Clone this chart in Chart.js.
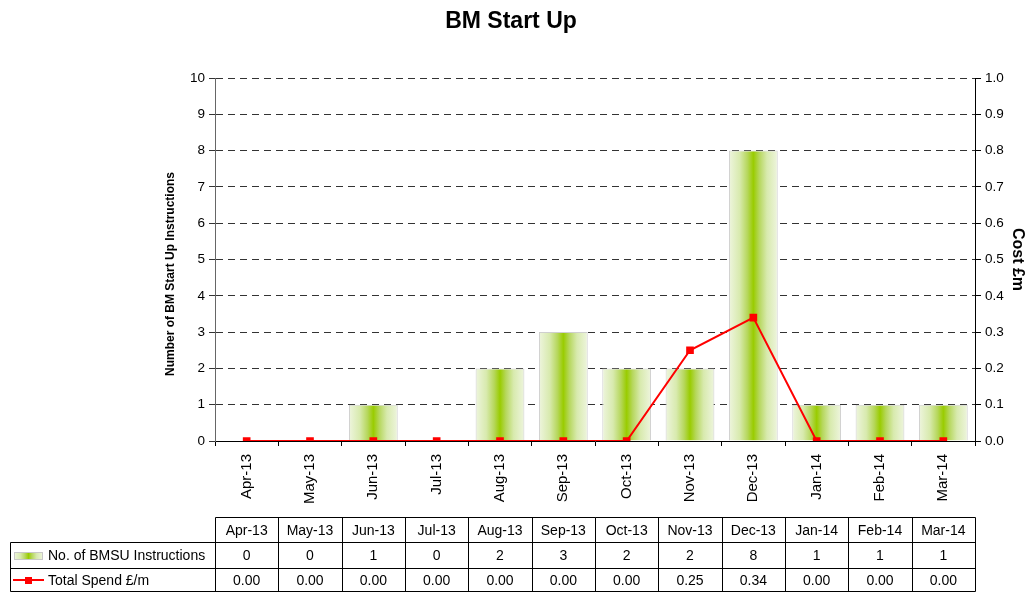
<!DOCTYPE html>
<html>
<head>
<meta charset="utf-8">
<script src="https://cdn.jsdelivr.net/npm/chart.js@4"></script>
<style>
  html, body { margin: 0; padding: 0; background: #fff; }
  #wrap { width: 1027px; height: 592px; position: relative; }
</style>
</head>
<body>
<div id="wrap"><canvas id="chart-bmsu" width="1027" height="592"></canvas></div>
<script>
// data
const months = ['Apr-13', 'May-13', 'Jun-13', 'Jul-13', 'Aug-13', 'Sep-13', 'Oct-13', 'Nov-13', 'Dec-13', 'Jan-14', 'Feb-14', 'Mar-14'];
const instructions = [0, 0, 1, 0, 2, 3, 2, 2, 8, 1, 1, 1];
const spend = [0, 0, 0, 0, 0, 0, 0, 0.25, 0.34, 0, 0, 0];
const seriesNames = ['No. of BMSU Instructions', 'Total Spend \u00a3/m'];

const FONT = 'Arial, "Liberation Sans", sans-serif';
const BAR_FRAC = 0.77;

function barGradient(c, x0, x1) {
    const g = c.createLinearGradient(x0, 0, x1, 0);
    g.addColorStop(0, '#eef5de');
    g.addColorStop(0.22, '#d8eaae');
    g.addColorStop(0.38, '#b6d75c');
    g.addColorStop(0.5, '#99cc00');
    g.addColorStop(0.62, '#b6d75c');
    g.addColorStop(0.78, '#d8eaae');
    g.addColorStop(1, '#eef5de');
    return g;
}

// title, left axis title and data table under the plot
const tablePlugin = {
    id: 'tablePlugin',
    afterDraw(chart) {
        const c = chart.ctx;
        const xs = chart.scales.x;
        const area = chart.chartArea;
        const colW = (area.right - area.left) / months.length;
        c.save();

        c.fillStyle = '#000';
        c.font = 'bold 23px ' + FONT;
        c.textAlign = 'center';
        c.textBaseline = 'middle';
        c.fillText('BM Start Up', 511, 22);

        c.save();
        c.translate(171, 274);
        c.rotate(-Math.PI / 2);
        c.font = 'bold 12px ' + FONT;
        c.fillText('Number of BM Start Up Instructions', 0, 0);
        c.restore();

        const yHead = 517.5, yR1 = 542.5, yR2 = 568.5, yEnd = 591.5;
        const left = 10.5, right = Math.round(area.right) + 0.5;
        c.strokeStyle = '#000';
        c.lineWidth = 1;
        c.beginPath();
        c.moveTo(Math.round(area.left) + 0.5, yHead); c.lineTo(right, yHead);
        c.moveTo(left, yR1); c.lineTo(right, yR1);
        c.moveTo(left, yR2); c.lineTo(right, yR2);
        c.moveTo(left, yEnd); c.lineTo(right, yEnd);
        c.moveTo(left, yR1); c.lineTo(left, yEnd);
        for (let i = 0; i <= months.length; i++) {
            const x = Math.round(area.left + colW * i) + 0.5;
            c.moveTo(x, yHead); c.lineTo(x, yEnd);
        }
        c.stroke();

        c.font = '14px ' + FONT;
        c.fillStyle = '#000';
        months.forEach((m, i) => {
            const x = xs.getPixelForValue(i);
            c.fillText(m, x, (yHead + yR1) / 2 + 1);
            c.fillText(String(instructions[i]), x, (yR1 + yR2) / 2 + 1);
            c.fillText(spend[i].toFixed(2), x, (yR2 + yEnd) / 2 + 1);
        });

        c.textAlign = 'left';
        c.fillText(seriesNames[0], 48, (yR1 + yR2) / 2 + 1);
        c.fillText(seriesNames[1], 48, (yR2 + yEnd) / 2 + 1);

        // legend keys
        c.fillStyle = barGradient(c, 14, 43);
        c.fillRect(14, 552, 29, 8);
        c.strokeStyle = '#c8c8c8';
        c.strokeRect(14.5, 552.5, 28, 7);
        c.strokeStyle = '#ff0000';
        c.lineWidth = 2;
        c.beginPath();
        c.moveTo(13, 580); c.lineTo(44, 580);
        c.stroke();
        c.fillStyle = '#ff0000';
        c.fillRect(25, 577, 7, 7);
        c.restore();
    }
};

const ctx = document.getElementById('chart-bmsu').getContext('2d');

const chart_data = {
    labels: months,
    datasets: [{
        type: 'line',
        label: seriesNames[1],
        data: spend,
        yAxisID: 'y1',
        borderColor: '#ff0000',
        backgroundColor: '#ff0000',
        borderWidth: 2,
        pointStyle: 'rect',
        pointRadius: 4,
        pointHoverRadius: 4,
        tension: 0,
        order: 0
    },
    {
        type: 'bar',
        label: seriesNames[0],
        data: instructions,
        yAxisID: 'y',
        backgroundColor: (context) => {
            const chart = context.chart;
            if (!chart.chartArea) return '#99cc00';
            const xs = chart.scales.x;
            const w = (chart.chartArea.right - chart.chartArea.left) / months.length * BAR_FRAC;
            const cx = xs.getPixelForValue(context.dataIndex);
            return barGradient(chart.ctx, cx - w / 2, cx + w / 2);
        },
        borderColor: '#cfcfcf',
        borderWidth: 1,
        categoryPercentage: 1,
        barPercentage: BAR_FRAC,
        order: 1
    }
    ]
};

const chart = new Chart(ctx, {
    data: chart_data,
    plugins: [tablePlugin],
    options: {
        responsive: false,
        animation: false,
        layout: {
            padding: { left: 160, top: 78, right: 0, bottom: 0 }
        },
        plugins: {
            legend: { display: false },
            title: { display: false },
            tooltip: { enabled: false }
        },
        scales: {
            x: {
                offset: true,
                grid: {
                    offset: true,
                    drawOnChartArea: false,
                    drawTicks: true,
                    tickLength: 5,
                    color: '#000'
                },
                border: { color: '#000', width: 1 },
                ticks: {
                    color: '#000',
                    font: { family: FONT, size: 15 },
                    maxRotation: 90,
                    minRotation: 90,
                    padding: 8,
                    autoSkip: false
                },
                afterFit: (scale) => { scale.height = 151; }
            },
            y: {
                position: 'left',
                min: 0,
                max: 10,
                ticks: {
                    stepSize: 1,
                    color: '#000',
                    font: { family: FONT, size: 13.5 },
                    padding: 4
                },
                grid: {
                    color: '#333',
                    tickColor: '#333',
                    tickLength: 6,
                    tickBorderDash: []
                },
                border: { color: '#666', width: 1, dash: [7, 5] },
                afterFit: (scale) => { scale.width = 55; }
            },
            y1: {
                position: 'right',
                min: 0,
                max: 1,
                ticks: {
                    stepSize: 0.1,
                    color: '#000',
                    font: { family: FONT, size: 13.5 },
                    padding: 4,
                    callback: (v) => Number(v).toFixed(1)
                },
                grid: {
                    drawOnChartArea: false,
                    tickColor: '#000',
                    tickLength: 6
                },
                border: { color: '#000', width: 1 },
                title: {
                    display: true,
                    text: 'Cost \u00a3m',
                    color: '#000',
                    font: { family: FONT, size: 16, weight: 'bold' },
                    padding: 0
                },
                afterFit: (scale) => { scale.width = 52; }
            }
        }
    }
});
</script>
</body>
</html>
